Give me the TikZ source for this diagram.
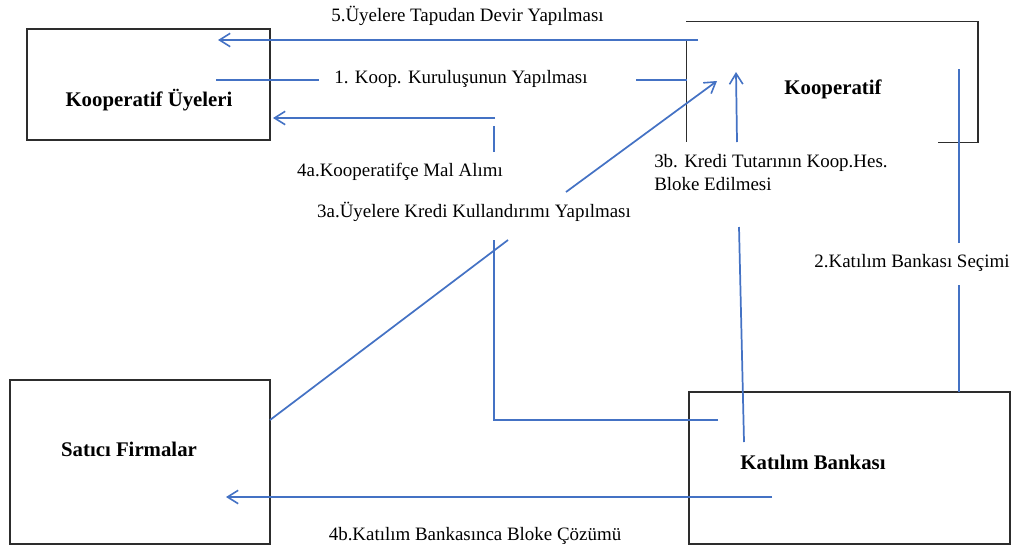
\documentclass[tikz,border=0pt]{standalone}
\usepackage{fontspec}
\setmainfont{Liberation Serif}
\usepackage{tikz}
\usetikzlibrary{arrows.meta}
\definecolor{mavi}{RGB}{68,114,196}
\definecolor{kenar}{RGB}{45,45,45}
\newcommand{\kutu}[5]{\node[kutu, minimum width=#4*0.75pt, minimum height=#5*0.75pt] (#1) at (#2,#3) {};}
\newcommand{\duzciz}{\draw[mavi, line width=1.3pt]}
\newcommand{\okciz}{\draw[mavi, line width=1.3pt, -{Straight Barb[length=8pt,width=10pt,line width=1.2pt]}]}
\tikzset{
  kutu/.style={draw=kenar, line width=0.8pt, inner sep=0pt},
  baslik/.style={font=\fontsize{15.6}{18}\selectfont\bfseries, inner sep=0pt},
  etiket/.style={font=\fontsize{14.2}{17.25}\selectfont, inner sep=0pt}
}

\begin{document}
\begin{tikzpicture}[x=0.75pt,y=-0.75pt]
\useasboundingbox (0,0) rectangle (1019,550);
\kutu{uye}{148.5}{84.5}{243}{111}
\kutu{satici}{140}{462}{260}{164}
\kutu{katilim}{849.5}{468}{321}{152}
\node[inner sep=0pt, minimum width=291*0.75pt, minimum height=120*0.75pt] (koop) at (832.2,82) {};
\draw[draw=kenar, line width=0.8pt] (koop.north west) ++(0,18) -- (koop.south west);
\draw[draw=kenar, line width=0.8pt] (koop.south east) ++(-39.7,0) -- (koop.south east) -- (koop.north east) -- (koop.north west);

\node[baslik] (uyeYazi) at (149,100) {Kooperatif Üyeleri};
\node[baslik] (koopYazi) at (833,89) {Kooperatif};
\node[baslik] (saticiYazi) at (129,449) {Satıcı Firmalar};
\node[baslik] (katilimYazi) at (813,462) {Katılım Bankası};

\node[etiket] (l5) at (467.5,16) {5.Üyelere Tapudan Devir Yapılması};
\node[etiket] (l1) at (461,79) {1. Koop. Kuruluşunun Yapılması};
\node[etiket] (l4a) at (400,172) {4a.Kooperatifçe Mal Alımı};
\node[etiket] (l3a) at (474,212) {3a.Üyelere Kredi Kullandırımı Yapılması};
\node[etiket, align=left, anchor=west] (l3b) at (654,173) {3b. Kredi Tutarının Koop.Hes.\\Bloke Edilmesi};
\node[etiket] (l2) at (912,263) {2.Katılım Bankası Seçimi};
\node[etiket] (l4b) at (475,536) {4b.Katılım Bankasınca Bloke Çözümü};

\coordinate (k5) at (698,40);
\coordinate (u5) at (218,40);
\coordinate (u1) at (216,80);
\coordinate (u1s) at (319,80);
\coordinate (k1s) at (636,80);
\coordinate (k1) at (686.7,80);
\coordinate (b4a) at (718,420);
\coordinate (b4ak) at (494,420);
\coordinate (b4as) at (494,240);
\coordinate (u4ab) at (494,152);
\coordinate (u4as) at (494,126);
\coordinate (u4ak) at (495,118);
\coordinate (u4a) at (273,118);
\coordinate (s3a) at (270,420);
\coordinate (s3as) at (508,240);
\coordinate (k3as) at (566,192);
\coordinate (k3a) at (717,81);
\coordinate (b3b) at (744,442);
\coordinate (b3bs) at (739,227);
\coordinate (k3bs) at (737,142);
\coordinate (k3b) at (736,72);
\coordinate (b2) at (959,392);
\coordinate (b2s) at (959,285);
\coordinate (k2s) at (959,243);
\coordinate (k2) at (959,69);
\coordinate (b4b) at (772,497);
\coordinate (s4b) at (226,497);

\okciz (k5) -- (u5);
\duzciz (u1) -- (u1s) (k1s) -- (k1);
\duzciz (b4a) -- (b4ak) -- (b4as) (u4ab) -- (u4as);
\okciz (u4ak) -- (u4a);
\duzciz (s3a) -- (s3as);
\okciz (k3as) -- (k3a);
\duzciz (b3b) -- (b3bs);
\okciz (k3bs) -- (k3b);
\duzciz (b2) -- (b2s) (k2s) -- (k2);
\okciz (b4b) -- (s4b);
\end{tikzpicture}
\end{document}
